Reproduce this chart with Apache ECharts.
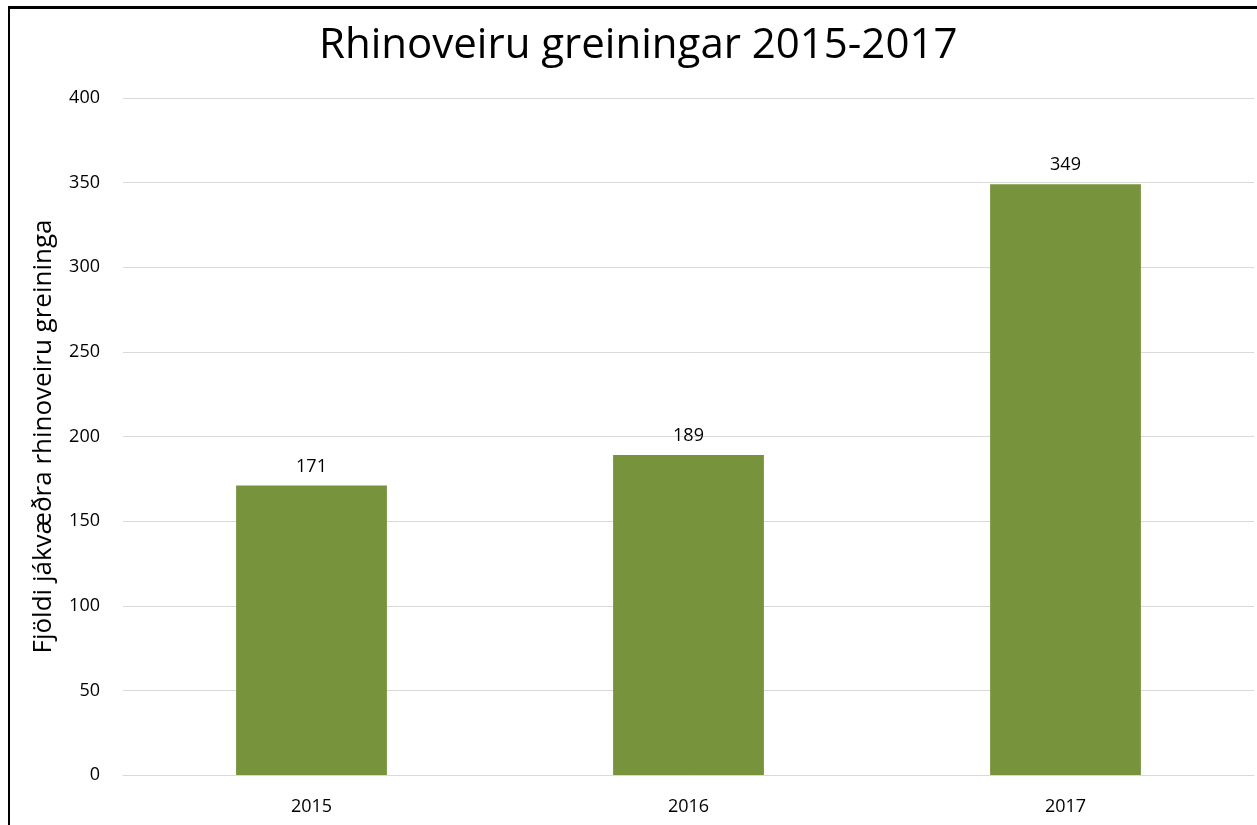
<!DOCTYPE html>
<html>
<head>
<meta charset="utf-8">
<script src="https://cdn.jsdelivr.net/npm/echarts@6/dist/echarts.min.js"></script>
<style>
  html, body { margin: 0; padding: 0; background: #fff; }
  #chart { position: absolute; left: 0; top: 0; width: 1257px; height: 825px; }
  #frame { position: absolute; left: 8px; top: 6px; width: 1249px; height: 819px;
           border-left: 2px solid #000; border-top: 3px solid #000; box-sizing: border-box; pointer-events: none; }
</style>
</head>
<body>
<div id="chart"></div>
<div id="frame"></div>
<script>
// ár og fjöldi greininga
var years = ['2015', '2016', '2017'];
var counts = [171, 189, 349];
var yTicks = { min: 0, max: 400, step: 50 };

var chart = echarts.init(document.getElementById('chart'));
var font = 'Open Sans';
var option = {
    animation: false,
    title: {
        text: 'Rhinoveiru greiningar 2015-2017',
        left: 314,
        top: 20,
        textStyle: { fontFamily: font, fontSize: 42, fontWeight: 'normal', color: '#000' }
    },
    grid: { left: 123, right: 3, top: 98, bottom: 50 },
    xAxis: {
        type: 'category',
        data: years,
        axisTick: { show: false },
        axisLine: { lineStyle: { color: '#d9d9d9', width: 1 } },
        axisLabel: { fontFamily: font, fontSize: 18, color: '#000', margin: 23 }
    },
    yAxis: {
        type: 'value',
        min: yTicks.min,
        max: yTicks.max,
        interval: yTicks.step,
        name: 'Fjöldi jákvæðra rhinoveiru greininga',
        nameLocation: 'middle',
        nameGap: 66,
        nameTextStyle: { fontFamily: font, fontSize: 26, color: '#000' },
        axisLine: { show: false },
        axisTick: { show: false },
        axisLabel: { fontFamily: font, fontSize: 18, color: '#000', margin: 23 },
        splitLine: { lineStyle: { color: '#d9d9d9', width: 1 } }
    },
    series: [{
        type: 'bar',
        data: counts,
        barCategoryGap: '60%',
        itemStyle: { color: '#77933C' },
        label: {
            show: true,
            position: 'top',
            distance: 10,
            fontFamily: font,
            fontSize: 18,
            color: '#000'
        }
    }]
};
chart.setOption(option);
</script>
</body>
</html>
